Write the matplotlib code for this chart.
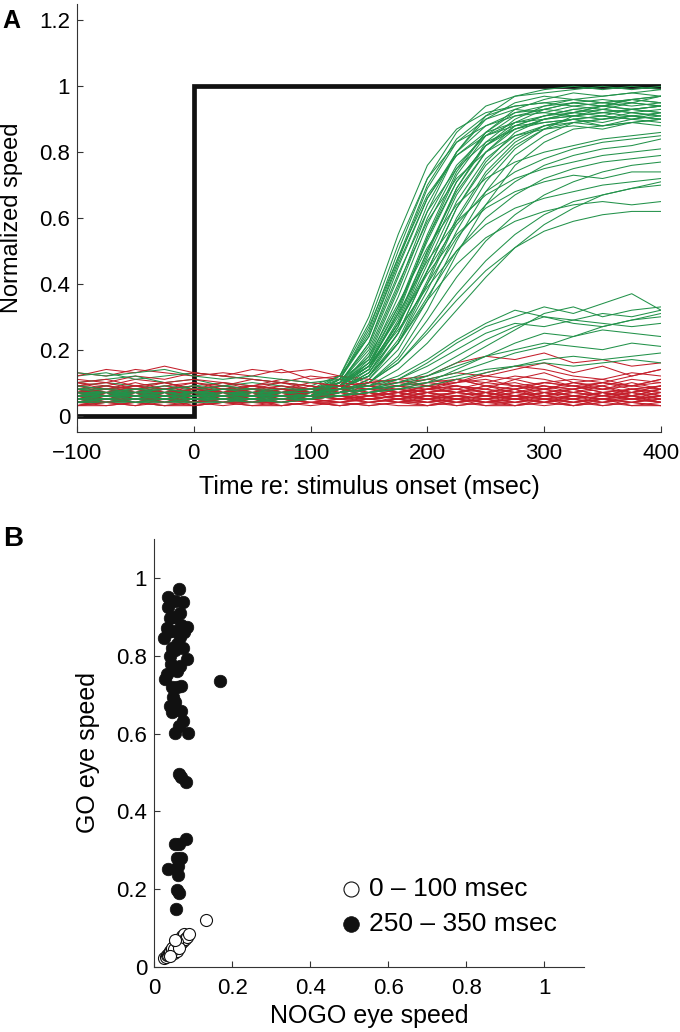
"""
Two-panel figure: normalized eye-speed traces (GO green / NOGO red) and
GO vs NOGO eye speed scatter for two analysis windows.
"""

import matplotlib
matplotlib.use('Agg')
import matplotlib.pyplot as plt

plt.rcParams['font.family'] = ['Liberation Sans', 'DejaVu Sans']
plt.rcParams['font.size'] = 16

# ── panel A data: speed traces sampled every 25 ms ──
TIME_MS = [-100, -75, -50, -25, 0, 25, 50, 75, 100, 125, 150,
           175, 200, 225, 250, 275, 300, 325, 350, 375, 400]

STEP_T = [-100, 0, 0, 400]
STEP_Y = [0, 0, 1, 1]

GO_TRACES = [
    [0.05, 0.06, 0.05, 0.07, 0.06, 0.05, 0.06, 0.07, 0.08, 0.12, 0.30, 0.55, 0.76, 0.87, 0.92, 0.94, 0.95, 0.96, 0.95, 0.96, 0.97],
    [0.07, 0.06, 0.08, 0.07, 0.06, 0.07, 0.06, 0.08, 0.07, 0.10, 0.22, 0.45, 0.66, 0.80, 0.88, 0.92, 0.93, 0.92, 0.94, 0.93, 0.94],
    [0.04, 0.05, 0.04, 0.05, 0.06, 0.05, 0.04, 0.05, 0.06, 0.09, 0.18, 0.38, 0.60, 0.76, 0.85, 0.89, 0.91, 0.92, 0.93, 0.92, 0.93],
    [0.09, 0.08, 0.09, 0.10, 0.08, 0.09, 0.08, 0.07, 0.08, 0.11, 0.26, 0.50, 0.72, 0.86, 0.94, 0.97, 0.98, 0.99, 1.00, 0.99, 1.00],
    [0.06, 0.07, 0.06, 0.05, 0.06, 0.07, 0.06, 0.06, 0.07, 0.09, 0.15, 0.32, 0.54, 0.71, 0.82, 0.87, 0.90, 0.91, 0.90, 0.92, 0.91],
    [0.03, 0.04, 0.04, 0.03, 0.04, 0.05, 0.04, 0.04, 0.05, 0.08, 0.14, 0.29, 0.50, 0.69, 0.82, 0.89, 0.93, 0.95, 0.96, 0.95, 0.97],
    [0.08, 0.07, 0.06, 0.07, 0.08, 0.07, 0.07, 0.06, 0.07, 0.11, 0.27, 0.48, 0.67, 0.79, 0.85, 0.88, 0.89, 0.90, 0.89, 0.91, 0.90],
    [0.05, 0.05, 0.06, 0.06, 0.05, 0.04, 0.05, 0.06, 0.06, 0.09, 0.17, 0.36, 0.58, 0.75, 0.86, 0.92, 0.94, 0.95, 0.94, 0.96, 0.95],
    [0.06, 0.07, 0.07, 0.06, 0.07, 0.06, 0.05, 0.06, 0.07, 0.08, 0.12, 0.25, 0.44, 0.63, 0.76, 0.84, 0.88, 0.90, 0.91, 0.90, 0.92],
    [0.12, 0.13, 0.11, 0.12, 0.13, 0.12, 0.11, 0.10, 0.09, 0.12, 0.24, 0.46, 0.66, 0.79, 0.86, 0.89, 0.90, 0.91, 0.92, 0.91, 0.90],
    [0.04, 0.05, 0.05, 0.04, 0.05, 0.06, 0.05, 0.05, 0.06, 0.07, 0.11, 0.22, 0.40, 0.59, 0.73, 0.82, 0.87, 0.89, 0.90, 0.91, 0.90],
    [0.07, 0.08, 0.07, 0.08, 0.07, 0.08, 0.07, 0.08, 0.07, 0.10, 0.21, 0.42, 0.64, 0.80, 0.90, 0.95, 0.97, 0.96, 0.97, 0.98, 0.97],
    [0.05, 0.04, 0.05, 0.06, 0.05, 0.05, 0.06, 0.05, 0.06, 0.10, 0.20, 0.40, 0.59, 0.72, 0.80, 0.85, 0.87, 0.88, 0.87, 0.89, 0.88],
    [0.06, 0.06, 0.05, 0.06, 0.07, 0.06, 0.06, 0.07, 0.06, 0.08, 0.13, 0.27, 0.48, 0.67, 0.80, 0.88, 0.91, 0.93, 0.94, 0.93, 0.94],
    [0.09, 0.10, 0.09, 0.08, 0.09, 0.10, 0.09, 0.08, 0.08, 0.09, 0.12, 0.22, 0.38, 0.56, 0.71, 0.81, 0.87, 0.91, 0.92, 0.93, 0.94],
    [0.05, 0.06, 0.06, 0.07, 0.06, 0.05, 0.05, 0.06, 0.06, 0.11, 0.24, 0.47, 0.69, 0.83, 0.90, 0.93, 0.92, 0.94, 0.93, 0.95, 0.94],
    [0.04, 0.04, 0.05, 0.05, 0.04, 0.05, 0.05, 0.04, 0.05, 0.07, 0.11, 0.20, 0.35, 0.53, 0.68, 0.79, 0.85, 0.89, 0.90, 0.91, 0.92],
    [0.07, 0.06, 0.07, 0.06, 0.06, 0.07, 0.08, 0.07, 0.07, 0.09, 0.16, 0.33, 0.55, 0.74, 0.86, 0.93, 0.96, 0.98, 0.97, 0.98, 0.99],
    [0.06, 0.05, 0.06, 0.05, 0.06, 0.05, 0.06, 0.06, 0.06, 0.07, 0.10, 0.18, 0.32, 0.49, 0.64, 0.76, 0.83, 0.87, 0.88, 0.89, 0.90],
    [0.08, 0.09, 0.08, 0.07, 0.08, 0.08, 0.07, 0.08, 0.08, 0.10, 0.16, 0.30, 0.50, 0.68, 0.80, 0.87, 0.90, 0.92, 0.91, 0.93, 0.92],
    [0.05, 0.05, 0.04, 0.05, 0.05, 0.06, 0.05, 0.05, 0.05, 0.09, 0.15, 0.31, 0.54, 0.73, 0.85, 0.91, 0.93, 0.95, 0.94, 0.96, 0.95],
    [0.10, 0.11, 0.12, 0.10, 0.11, 0.09, 0.10, 0.09, 0.08, 0.09, 0.14, 0.27, 0.46, 0.65, 0.78, 0.85, 0.88, 0.89, 0.88, 0.90, 0.89],
    [0.06, 0.07, 0.06, 0.07, 0.07, 0.06, 0.06, 0.07, 0.07, 0.08, 0.12, 0.23, 0.41, 0.60, 0.74, 0.83, 0.88, 0.90, 0.91, 0.90, 0.91],
    [0.05, 0.06, 0.05, 0.05, 0.06, 0.06, 0.05, 0.05, 0.06, 0.09, 0.19, 0.39, 0.62, 0.80, 0.91, 0.97, 0.99, 1.00, 0.99, 1.00, 0.99],
    [0.06, 0.05, 0.06, 0.06, 0.05, 0.06, 0.05, 0.06, 0.06, 0.08, 0.13, 0.25, 0.40, 0.54, 0.64, 0.71, 0.76, 0.79, 0.81, 0.82, 0.84],
    [0.07, 0.07, 0.08, 0.07, 0.06, 0.07, 0.07, 0.06, 0.07, 0.09, 0.16, 0.31, 0.47, 0.59, 0.67, 0.72, 0.75, 0.77, 0.79, 0.80, 0.81],
    [0.05, 0.04, 0.05, 0.05, 0.04, 0.05, 0.04, 0.05, 0.05, 0.07, 0.10, 0.17, 0.29, 0.42, 0.53, 0.61, 0.67, 0.71, 0.74, 0.76, 0.77],
    [0.08, 0.07, 0.07, 0.08, 0.09, 0.08, 0.08, 0.07, 0.07, 0.09, 0.15, 0.28, 0.43, 0.55, 0.63, 0.68, 0.71, 0.73, 0.72, 0.74, 0.74],
    [0.04, 0.05, 0.05, 0.04, 0.05, 0.05, 0.04, 0.05, 0.05, 0.07, 0.10, 0.16, 0.26, 0.37, 0.47, 0.55, 0.61, 0.65, 0.67, 0.69, 0.70],
    [0.06, 0.06, 0.07, 0.06, 0.06, 0.05, 0.06, 0.06, 0.06, 0.08, 0.12, 0.22, 0.35, 0.46, 0.54, 0.59, 0.62, 0.64, 0.65, 0.64, 0.65],
    [0.07, 0.08, 0.07, 0.07, 0.08, 0.07, 0.06, 0.07, 0.07, 0.08, 0.10, 0.16, 0.25, 0.35, 0.44, 0.51, 0.56, 0.59, 0.61, 0.62, 0.62],
    [0.05, 0.06, 0.05, 0.06, 0.05, 0.06, 0.06, 0.05, 0.06, 0.09, 0.15, 0.28, 0.44, 0.58, 0.68, 0.74, 0.78, 0.81, 0.83, 0.84, 0.85],
    [0.09, 0.08, 0.08, 0.09, 0.08, 0.09, 0.08, 0.08, 0.08, 0.10, 0.15, 0.26, 0.39, 0.50, 0.58, 0.63, 0.66, 0.68, 0.70, 0.71, 0.72],
    [0.04, 0.04, 0.05, 0.04, 0.04, 0.05, 0.05, 0.04, 0.05, 0.08, 0.12, 0.22, 0.36, 0.50, 0.60, 0.67, 0.72, 0.75, 0.77, 0.78, 0.79],
    [0.06, 0.07, 0.06, 0.06, 0.07, 0.07, 0.06, 0.06, 0.06, 0.07, 0.09, 0.14, 0.22, 0.32, 0.42, 0.51, 0.58, 0.63, 0.67, 0.69, 0.71],
    [0.05, 0.05, 0.06, 0.05, 0.05, 0.05, 0.06, 0.05, 0.06, 0.10, 0.18, 0.34, 0.51, 0.64, 0.72, 0.77, 0.80, 0.82, 0.84, 0.85, 0.86],
    [0.07, 0.07, 0.06, 0.07, 0.07, 0.06, 0.07, 0.07, 0.07, 0.12, 0.28, 0.52, 0.72, 0.83, 0.88, 0.91, 0.92, 0.91, 0.93, 0.92, 0.91],
    [0.04, 0.05, 0.04, 0.04, 0.05, 0.04, 0.04, 0.05, 0.05, 0.10, 0.22, 0.43, 0.62, 0.75, 0.83, 0.87, 0.89, 0.90, 0.88, 0.89, 0.90],
    [0.08, 0.08, 0.07, 0.08, 0.07, 0.08, 0.08, 0.07, 0.08, 0.09, 0.14, 0.28, 0.49, 0.69, 0.83, 0.90, 0.94, 0.96, 0.95, 0.96, 0.97],
    [0.06, 0.06, 0.06, 0.05, 0.06, 0.06, 0.06, 0.06, 0.06, 0.11, 0.25, 0.48, 0.70, 0.84, 0.91, 0.94, 0.95, 0.94, 0.95, 0.94, 0.95],
    [0.05, 0.06, 0.06, 0.05, 0.06, 0.05, 0.05, 0.06, 0.06, 0.08, 0.13, 0.25, 0.44, 0.63, 0.77, 0.86, 0.90, 0.92, 0.94, 0.95, 0.94],
    [0.13, 0.12, 0.13, 0.14, 0.12, 0.11, 0.12, 0.11, 0.10, 0.11, 0.17, 0.33, 0.53, 0.71, 0.82, 0.88, 0.91, 0.93, 0.92, 0.93, 0.92],
    [0.06, 0.05, 0.06, 0.06, 0.05, 0.06, 0.05, 0.06, 0.06, 0.07, 0.08, 0.10, 0.13, 0.18, 0.23, 0.27, 0.30, 0.29, 0.31, 0.30, 0.32],
    [0.05, 0.06, 0.05, 0.05, 0.06, 0.05, 0.05, 0.06, 0.05, 0.06, 0.07, 0.09, 0.12, 0.16, 0.21, 0.26, 0.31, 0.33, 0.30, 0.32, 0.33],
    [0.07, 0.06, 0.07, 0.07, 0.06, 0.07, 0.06, 0.07, 0.07, 0.08, 0.09, 0.11, 0.15, 0.20, 0.25, 0.28, 0.27, 0.29, 0.28, 0.27, 0.28],
    [0.04, 0.05, 0.04, 0.05, 0.04, 0.04, 0.05, 0.04, 0.05, 0.06, 0.07, 0.08, 0.10, 0.14, 0.18, 0.22, 0.25, 0.24, 0.26, 0.25, 0.24],
    [0.06, 0.06, 0.07, 0.06, 0.06, 0.07, 0.06, 0.06, 0.06, 0.07, 0.08, 0.10, 0.12, 0.15, 0.18, 0.20, 0.22, 0.21, 0.20, 0.22, 0.21],
    [0.05, 0.05, 0.05, 0.06, 0.05, 0.05, 0.05, 0.05, 0.06, 0.06, 0.07, 0.08, 0.09, 0.11, 0.13, 0.15, 0.17, 0.18, 0.17, 0.18, 0.19],
    [0.08, 0.07, 0.08, 0.08, 0.07, 0.08, 0.07, 0.07, 0.07, 0.08, 0.09, 0.12, 0.17, 0.23, 0.28, 0.32, 0.30, 0.28, 0.27, 0.29, 0.30],
    [0.05, 0.04, 0.05, 0.04, 0.05, 0.05, 0.04, 0.05, 0.05, 0.06, 0.08, 0.11, 0.16, 0.22, 0.27, 0.30, 0.33, 0.31, 0.34, 0.37, 0.32],
    [0.06, 0.07, 0.06, 0.06, 0.07, 0.06, 0.06, 0.07, 0.06, 0.07, 0.08, 0.09, 0.11, 0.13, 0.16, 0.19, 0.21, 0.24, 0.27, 0.29, 0.31],
    [0.07, 0.06, 0.06, 0.07, 0.06, 0.06, 0.07, 0.06, 0.06, 0.07, 0.08, 0.09, 0.10, 0.12, 0.14, 0.15, 0.16, 0.15, 0.16, 0.17, 0.16],
]

NOGO_TRACES = [
    [0.13, 0.12, 0.14, 0.13, 0.12, 0.13, 0.12, 0.14, 0.11, 0.12, 0.10, 0.11, 0.12, 0.16, 0.18, 0.17, 0.19, 0.16, 0.17, 0.15, 0.16],
    [0.05, 0.07, 0.05, 0.06, 0.04, 0.06, 0.05, 0.07, 0.06, 0.05, 0.06, 0.05, 0.07, 0.05, 0.06, 0.04, 0.06, 0.05, 0.07, 0.05, 0.06],
    [0.08, 0.06, 0.07, 0.09, 0.07, 0.06, 0.08, 0.06, 0.07, 0.08, 0.06, 0.07, 0.09, 0.07, 0.08, 0.06, 0.07, 0.08, 0.06, 0.08, 0.07],
    [0.03, 0.04, 0.03, 0.05, 0.04, 0.03, 0.04, 0.03, 0.04, 0.04, 0.03, 0.04, 0.05, 0.03, 0.04, 0.03, 0.05, 0.04, 0.03, 0.04, 0.03],
    [0.06, 0.05, 0.07, 0.05, 0.06, 0.08, 0.06, 0.05, 0.06, 0.07, 0.05, 0.06, 0.08, 0.09, 0.07, 0.06, 0.08, 0.07, 0.09, 0.06, 0.08],
    [0.10, 0.09, 0.11, 0.10, 0.08, 0.09, 0.11, 0.10, 0.09, 0.08, 0.10, 0.09, 0.10, 0.11, 0.09, 0.10, 0.08, 0.10, 0.11, 0.09, 0.10],
    [0.04, 0.06, 0.05, 0.04, 0.05, 0.04, 0.06, 0.05, 0.04, 0.05, 0.06, 0.04, 0.05, 0.06, 0.04, 0.05, 0.04, 0.06, 0.05, 0.04, 0.05],
    [0.07, 0.08, 0.06, 0.07, 0.09, 0.07, 0.08, 0.09, 0.07, 0.06, 0.07, 0.08, 0.06, 0.07, 0.09, 0.08, 0.06, 0.07, 0.08, 0.10, 0.08],
    [0.05, 0.04, 0.06, 0.05, 0.04, 0.06, 0.04, 0.05, 0.05, 0.06, 0.04, 0.05, 0.04, 0.06, 0.05, 0.04, 0.05, 0.06, 0.04, 0.05, 0.06],
    [0.09, 0.07, 0.08, 0.10, 0.08, 0.07, 0.09, 0.08, 0.10, 0.09, 0.08, 0.07, 0.09, 0.08, 0.10, 0.09, 0.07, 0.08, 0.10, 0.12, 0.14],
    [0.06, 0.07, 0.05, 0.06, 0.07, 0.05, 0.06, 0.08, 0.06, 0.05, 0.07, 0.06, 0.05, 0.07, 0.06, 0.08, 0.05, 0.06, 0.07, 0.05, 0.07],
    [0.03, 0.03, 0.04, 0.03, 0.03, 0.04, 0.03, 0.03, 0.04, 0.03, 0.04, 0.03, 0.03, 0.04, 0.03, 0.03, 0.04, 0.03, 0.04, 0.03, 0.03],
    [0.08, 0.09, 0.07, 0.08, 0.06, 0.08, 0.09, 0.07, 0.08, 0.09, 0.07, 0.09, 0.08, 0.10, 0.12, 0.11, 0.13, 0.10, 0.09, 0.11, 0.10],
    [0.04, 0.05, 0.04, 0.06, 0.05, 0.04, 0.05, 0.04, 0.06, 0.05, 0.05, 0.04, 0.06, 0.04, 0.05, 0.06, 0.04, 0.05, 0.04, 0.06, 0.04],
    [0.07, 0.05, 0.06, 0.07, 0.05, 0.07, 0.06, 0.05, 0.07, 0.06, 0.07, 0.05, 0.07, 0.06, 0.05, 0.07, 0.06, 0.08, 0.06, 0.07, 0.05],
    [0.11, 0.10, 0.12, 0.11, 0.13, 0.12, 0.11, 0.10, 0.12, 0.11, 0.09, 0.10, 0.11, 0.10, 0.13, 0.15, 0.14, 0.12, 0.11, 0.13, 0.12],
    [0.05, 0.06, 0.07, 0.05, 0.06, 0.05, 0.07, 0.06, 0.05, 0.04, 0.06, 0.07, 0.05, 0.06, 0.07, 0.05, 0.06, 0.05, 0.07, 0.06, 0.05],
    [0.06, 0.04, 0.05, 0.04, 0.06, 0.05, 0.04, 0.06, 0.05, 0.06, 0.05, 0.06, 0.04, 0.05, 0.04, 0.06, 0.05, 0.04, 0.05, 0.06, 0.04],
    [0.09, 0.08, 0.10, 0.08, 0.07, 0.09, 0.08, 0.10, 0.08, 0.07, 0.08, 0.09, 0.07, 0.08, 0.07, 0.09, 0.08, 0.10, 0.08, 0.09, 0.08],
    [0.04, 0.03, 0.04, 0.05, 0.03, 0.04, 0.05, 0.03, 0.04, 0.03, 0.04, 0.05, 0.03, 0.04, 0.05, 0.03, 0.04, 0.05, 0.03, 0.04, 0.05],
    [0.06, 0.06, 0.08, 0.07, 0.06, 0.07, 0.05, 0.07, 0.06, 0.08, 0.06, 0.07, 0.06, 0.05, 0.07, 0.06, 0.07, 0.05, 0.06, 0.08, 0.06],
    [0.07, 0.09, 0.08, 0.06, 0.08, 0.10, 0.08, 0.07, 0.09, 0.07, 0.08, 0.06, 0.08, 0.07, 0.06, 0.08, 0.09, 0.07, 0.06, 0.07, 0.09],
    [0.12, 0.14, 0.13, 0.15, 0.13, 0.12, 0.14, 0.13, 0.14, 0.12, 0.11, 0.10, 0.09, 0.11, 0.10, 0.12, 0.11, 0.09, 0.10, 0.08, 0.09],
    [0.05, 0.05, 0.06, 0.04, 0.05, 0.06, 0.05, 0.04, 0.05, 0.06, 0.05, 0.06, 0.05, 0.04, 0.06, 0.05, 0.04, 0.06, 0.05, 0.05, 0.04],
    [0.08, 0.06, 0.07, 0.08, 0.09, 0.07, 0.06, 0.08, 0.07, 0.08, 0.09, 0.07, 0.08, 0.07, 0.09, 0.07, 0.08, 0.09, 0.07, 0.08, 0.07],
    [0.03, 0.05, 0.04, 0.03, 0.04, 0.05, 0.04, 0.04, 0.03, 0.04, 0.05, 0.04, 0.03, 0.05, 0.04, 0.04, 0.05, 0.03, 0.04, 0.05, 0.04],
    [0.06, 0.07, 0.06, 0.08, 0.07, 0.06, 0.07, 0.06, 0.08, 0.07, 0.06, 0.08, 0.07, 0.08, 0.06, 0.07, 0.08, 0.06, 0.07, 0.06, 0.08],
    [0.10, 0.08, 0.09, 0.08, 0.10, 0.09, 0.07, 0.09, 0.08, 0.10, 0.09, 0.08, 0.10, 0.09, 0.08, 0.11, 0.09, 0.08, 0.10, 0.09, 0.11],
    [0.04, 0.05, 0.05, 0.06, 0.04, 0.05, 0.06, 0.05, 0.04, 0.05, 0.04, 0.05, 0.06, 0.05, 0.04, 0.05, 0.06, 0.04, 0.05, 0.04, 0.06],
    [0.07, 0.06, 0.05, 0.06, 0.07, 0.06, 0.05, 0.06, 0.07, 0.05, 0.06, 0.07, 0.05, 0.06, 0.07, 0.05, 0.07, 0.06, 0.05, 0.07, 0.06],
    [0.05, 0.07, 0.06, 0.05, 0.07, 0.08, 0.07, 0.06, 0.05, 0.07, 0.08, 0.09, 0.11, 0.13, 0.12, 0.14, 0.16, 0.13, 0.15, 0.12, 0.14],
    [0.09, 0.10, 0.08, 0.09, 0.10, 0.08, 0.09, 0.10, 0.09, 0.08, 0.09, 0.07, 0.08, 0.09, 0.07, 0.08, 0.10, 0.09, 0.07, 0.08, 0.09],
    [0.04, 0.04, 0.03, 0.04, 0.05, 0.04, 0.03, 0.04, 0.05, 0.04, 0.03, 0.04, 0.04, 0.05, 0.03, 0.04, 0.03, 0.04, 0.05, 0.03, 0.04],
    [0.06, 0.05, 0.06, 0.07, 0.05, 0.06, 0.07, 0.05, 0.06, 0.06, 0.07, 0.05, 0.06, 0.07, 0.06, 0.05, 0.07, 0.06, 0.05, 0.06, 0.07],
    [0.08, 0.07, 0.09, 0.07, 0.08, 0.07, 0.09, 0.08, 0.07, 0.09, 0.08, 0.08, 0.07, 0.09, 0.08, 0.07, 0.09, 0.08, 0.09, 0.07, 0.08],
    [0.05, 0.04, 0.05, 0.05, 0.04, 0.05, 0.05, 0.06, 0.05, 0.04, 0.05, 0.06, 0.05, 0.04, 0.05, 0.06, 0.05, 0.04, 0.06, 0.05, 0.04],
    [0.07, 0.08, 0.07, 0.06, 0.08, 0.07, 0.08, 0.07, 0.06, 0.08, 0.07, 0.06, 0.08, 0.11, 0.09, 0.08, 0.10, 0.09, 0.08, 0.07, 0.09],
    [0.03, 0.04, 0.05, 0.04, 0.03, 0.04, 0.04, 0.05, 0.04, 0.03, 0.04, 0.05, 0.04, 0.03, 0.04, 0.05, 0.04, 0.03, 0.05, 0.04, 0.03],
    [0.06, 0.05, 0.06, 0.05, 0.06, 0.07, 0.05, 0.06, 0.05, 0.06, 0.05, 0.06, 0.07, 0.05, 0.06, 0.05, 0.06, 0.07, 0.06, 0.05, 0.06],
    [0.10, 0.11, 0.09, 0.10, 0.11, 0.10, 0.09, 0.11, 0.10, 0.09, 0.10, 0.11, 0.09, 0.10, 0.11, 0.09, 0.10, 0.11, 0.10, 0.09, 0.11],
]

# ── panel B data: GO vs NOGO eye speed per session ──
EARLY_NOGO = [0.025, 0.030, 0.032, 0.035, 0.038, 0.040, 0.042, 0.045, 0.047, 0.050, 0.050, 0.052,
              0.055, 0.055, 0.058, 0.060, 0.060, 0.062, 0.065, 0.065, 0.068, 0.070, 0.072, 0.075,
              0.078, 0.080, 0.085, 0.090, 0.045, 0.050, 0.058, 0.063, 0.133, 0.040, 0.055]
EARLY_GO = [0.022, 0.025, 0.030, 0.032, 0.035, 0.040, 0.038, 0.045, 0.042, 0.050, 0.035, 0.055,
            0.048, 0.060, 0.052, 0.065, 0.040, 0.058, 0.070, 0.055, 0.075, 0.062, 0.080, 0.068,
            0.085, 0.072, 0.078, 0.085, 0.050, 0.045, 0.065, 0.050, 0.122, 0.028, 0.070]

LATE_NOGO = [0.064, 0.037, 0.074, 0.037, 0.066, 0.041, 0.084, 0.032, 0.049, 0.026, 0.066, 0.045,
             0.074, 0.054, 0.084, 0.043, 0.066, 0.032, 0.058, 0.028, 0.070, 0.045, 0.049, 0.041,
             0.070, 0.045, 0.074, 0.054, 0.088, 0.169, 0.055, 0.050, 0.070, 0.060, 0.040, 0.060,
             0.055, 0.065, 0.035, 0.078, 0.065, 0.070, 0.082, 0.082, 0.065, 0.054, 0.037, 0.058,
             0.070, 0.062, 0.062, 0.058, 0.065, 0.056]
LATE_GO = [0.972, 0.950, 0.937, 0.924, 0.911, 0.898, 0.874, 0.872, 0.864, 0.846, 0.849, 0.821,
           0.821, 0.815, 0.791, 0.778, 0.774, 0.753, 0.761, 0.741, 0.723, 0.719, 0.693, 0.672,
           0.659, 0.655, 0.633, 0.601, 0.601, 0.734, 0.940, 0.900, 0.880, 0.830, 0.800, 0.720,
           0.680, 0.620, 0.860, 0.860, 0.497, 0.488, 0.475, 0.330, 0.317, 0.316, 0.253, 0.281,
           0.281, 0.260, 0.236, 0.197, 0.189, 0.150]

GREEN = '#22924a'
RED = '#c41f2b'
SPINE = '#333333'


def style_axes(ax):
    """MATLAB-like box-off axes with inward ticks."""
    for side in ('top', 'right'):
        ax.spines[side].set_visible(False)
    for side in ('left', 'bottom'):
        ax.spines[side].set_color(SPINE)
        ax.spines[side].set_linewidth(0.8)
    ax.tick_params(direction='in', length=4, width=0.8, color=SPINE,
                   labelsize=16, pad=5)


fig = plt.figure(figsize=(6.8, 10.32), dpi=100)

# ════════════════════════════════════════════════
# Panel A: speed traces
# ════════════════════════════════════════════════
ax_a = fig.add_axes([0.1132, 0.5814, 0.8588, 0.4147])
ax_a.plot(STEP_T, STEP_Y, color='#111111', lw=3.4, solid_joinstyle='miter', zorder=1)
n = max(len(GO_TRACES), len(NOGO_TRACES))
for i in range(n):
    if i < len(GO_TRACES):
        ax_a.plot(TIME_MS, GO_TRACES[i], color=GREEN, lw=0.75, zorder=2)
    if i < len(NOGO_TRACES):
        ax_a.plot(TIME_MS, NOGO_TRACES[i], color=RED, lw=0.75, zorder=2)
ax_a.set_xlim(-100, 400)
ax_a.set_ylim(-0.05, 1.25)
ax_a.set_xticks([-100, 0, 100, 200, 300, 400])
ax_a.set_yticks([0, 0.2, 0.4, 0.6, 0.8, 1.0, 1.2])
ax_a.set_yticklabels(['0', '0.2', '0.4', '0.6', '0.8', '1', '1.2'])
style_axes(ax_a)
ax_a.tick_params(axis='x', pad=8)
ax_a.set_xlabel('Time re: stimulus onset (msec)', fontsize=18)
ax_a.set_ylabel('Normalized speed', fontsize=17)
ax_a.yaxis.set_label_coords(-0.0916, 0.5)
ax_a.xaxis.set_label_coords(0.5, -0.10)

# ════════════════════════════════════════════════
# Panel B: GO vs NOGO scatter
# ════════════════════════════════════════════════
ax_b = fig.add_axes([0.2265, 0.063, 0.6316, 0.4147])
ax_b.scatter(EARLY_NOGO, EARLY_GO, s=75, facecolors='white', edgecolors='#111111',
             linewidths=0.8, label='0 \u2013 100 msec', zorder=3)
ax_b.scatter(LATE_NOGO, LATE_GO, s=82, color='#111111', edgecolors='#111111',
             linewidths=0.5, label='250 \u2013 350 msec', zorder=2)
ax_b.set_xlim(0, 1.1)
ax_b.set_ylim(0, 1.1)
ax_b.set_xticks([0, 0.2, 0.4, 0.6, 0.8, 1.0])
ax_b.set_xticklabels(['0', '0.2', '0.4', '0.6', '0.8', '1'])
ax_b.set_yticks([0, 0.2, 0.4, 0.6, 0.8, 1.0])
ax_b.set_yticklabels(['0', '0.2', '0.4', '0.6', '0.8', '1'])
style_axes(ax_b)
ax_b.tick_params(axis='x', pad=8)
ax_b.set_xlabel('NOGO eye speed', fontsize=18)
ax_b.set_ylabel('GO eye speed', fontsize=18)
ax_b.yaxis.set_label_coords(-0.126, 0.5)
ax_b.xaxis.set_label_coords(0.5, -0.086)
ax_b.legend(loc='center left', bbox_to_anchor=(0.434, 0.141), frameon=False,
            handletextpad=0.3, handlelength=0.8, labelspacing=0.4,
            borderpad=0, borderaxespad=0, fontsize=19, markerscale=1.25)

fig.text(0.004, 0.980, 'A', fontsize=18, fontweight='bold', va='center', ha='left')
fig.text(0.004, 0.478, 'B', fontsize=20, fontweight='bold', va='center', ha='left')

fig.savefig('out.png', dpi=100)
